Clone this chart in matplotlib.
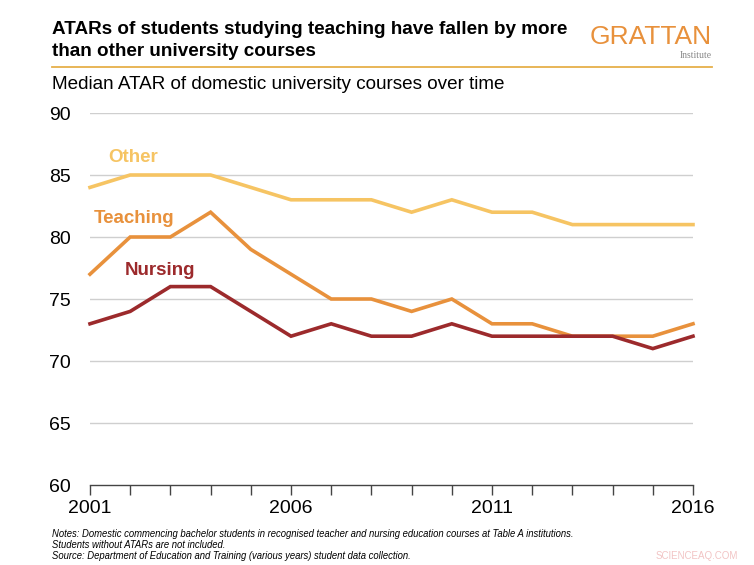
import matplotlib
matplotlib.use("Agg")
import matplotlib.pyplot as plt
from matplotlib import font_manager

years = list(range(2001, 2017))
other = [84, 85, 85, 85, 84, 83, 83, 83, 82, 83, 82, 82, 81, 81, 81, 81]
teaching = [77, 80, 80, 82, 79, 77, 75, 75, 74, 75, 73, 73, 72, 72, 72, 73]
nursing = [73, 74, 76, 76, 74, 72, 73, 72, 72, 73, 72, 72, 72, 72, 71, 72]
yticks = [60, 65, 70, 75, 80, 85, 90]
xticks_labels = [2001, 2006, 2011, 2016]

names = {f.name for f in font_manager.fontManager.ttflist}
fam = ['Liberation Sans Narrow'] if 'Liberation Sans Narrow' in names else []
fam += ['Liberation Sans', 'DejaVu Sans']
plt.rcParams['font.family'] = fam

c_other = '#F6C463'
c_teach = '#E8913C'
c_nurs = '#9C2A2C'

fig = plt.figure(figsize=(7.54, 5.65), dpi=100)
ax = fig.add_axes([90/754, 1-485/565, 603/754, 372/565])

ax.plot(years, other, color=c_other, lw=2.6, solid_joinstyle='miter', clip_on=False)
ax.plot(years, teaching, color=c_teach, lw=2.6, solid_joinstyle='miter', clip_on=False)
ax.plot(years, nursing, color=c_nurs, lw=2.6, solid_joinstyle='miter', clip_on=False)

ax.text(2002.07, 86.45, 'Other', color=c_other, fontsize=13.5, fontweight='bold', ha='center', va='center')
ax.text(2002.1, 81.5, 'Teaching', color=c_teach, fontsize=13.5, fontweight='bold', ha='center', va='center')
ax.text(2002.74, 77.3, 'Nursing', color=c_nurs, fontsize=13.5, fontweight='bold', ha='center', va='center')

ax.set_xlim(2001, 2016)
ax.set_ylim(60, 90)
ax.set_yticks(yticks)
ax.set_yticklabels([str(v) for v in yticks], fontsize=14)
ax.set_xticks(years)
ax.set_xticklabels([str(y) if y in xticks_labels else '' for y in years], fontsize=14)
for t in yticks[1:]:
    ax.axhline(t, color='#CFCFCF', lw=1.0, zorder=0)
for s in ['top', 'right', 'left']:
    ax.spines[s].set_visible(False)
ax.spines['bottom'].set_color('#444444')
ax.spines['bottom'].set_linewidth(1.0)
ax.tick_params(axis='x', direction='out', length=7, width=1, color='#444444', pad=4)
ax.tick_params(axis='y', length=0, pad=14)
ax.set_facecolor('none')

fig.text(52/754, 1-30/565, 'ATARs of students studying teaching have fallen by more',
         fontsize=13.6, fontweight='bold', va='center', ha='left')
fig.text(52/754, 1-52/565, 'than other university courses',
         fontsize=13.6, fontweight='bold', va='center', ha='left')
fig.add_artist(plt.Line2D([52/754, 712/754], [1-67/565, 1-67/565], color='#E6B04A', lw=1.3))
fig.text(52/754, 1-84/565, 'Median ATAR of domestic university courses over time',
         fontsize=13.6, va='center', ha='left')

fig.text(712/754, 1-37/565, 'GRATTAN', fontsize=19, color='#E8913C', va='center', ha='right',
         family=fam)
fig.text(712/754, 1-55/565, 'Institute', fontsize=7, color='#888888', va='center', ha='right',
         family=['Liberation Serif', 'DejaVu Serif'])

notes = ['Notes: Domestic commencing bachelor students in recognised teacher and nursing education courses at Table A institutions.',
         'Students without ATARs are not included.',
         'Source: Department of Education and Training (various years) student data collection.']
for i, n in enumerate(notes):
    fig.text(52/754, 1-(534+11*i)/565, n, fontsize=6.85, style='italic', va='center', ha='left')
fig.text(738/754, 1-556/565, 'SCIENCEAQ.COM', fontsize=7, color='#F2C4C4', va='center', ha='right')

fig.savefig('out.png', dpi=100)
